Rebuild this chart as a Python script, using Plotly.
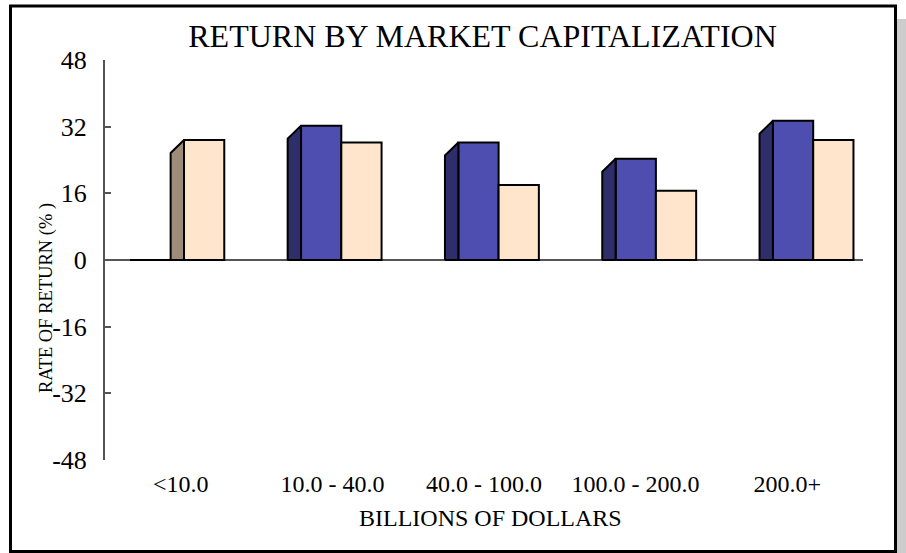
import plotly.graph_objects as go

# ---- data ----
categories = ["<10.0", "10.0 - 40.0", "40.0 - 100.0", "100.0 - 200.0", "200.0+"]
series_a = [0.0, 32.2, 28.2, 24.3, 33.4]      # blue bars
series_b = [28.8, 28.2, 18.0, 16.6, 28.8]     # peach bars
y_ticks = [48, 32, 16, 0, -16, -32, -48]

# ---- style ----
FONT = "Liberation Serif, Times New Roman, serif"
BLUE = "#4E4EB0"
BLUE_SIDE = "#2E2E6B"
PEACH = "#FFE5CC"
PEACH_SIDE = "#9E8C7A"
W = 0.256      # bar width (x2 units)
D = 0.085      # depth width (x2 units)
DY = 3.1       # depth drop (y units)

n = len(categories)
idx = list(range(n))

fig = go.Figure()

# visible side faces of peach bars (only where they rise above the blue bar)
px, py = [], []
for i, (a, b) in enumerate(zip(series_a, series_b)):
    if b > a:
        base = a
        px += [i - D, i - D, i, i, i - D, None]
        py += [base, max(b - DY, base), b, base, base, None]
fig.add_trace(go.Scatter(x=px, y=py, xaxis="x2", mode="lines", fill="toself",
                         fillcolor=PEACH_SIDE, line=dict(color="black", width=2),
                         hoverinfo="skip", showlegend=False))

# side faces of blue bars
bx, by = [], []
for i, a in enumerate(series_a):
    x0 = i - W - D
    x1 = i - W
    bx += [x0, x0, x1, x1, x0, None]
    by += [0, max(a - DY, 0), a, 0, 0, None]
fig.add_trace(go.Scatter(x=bx, y=by, xaxis="x2", mode="lines", fill="toself",
                         fillcolor=BLUE_SIDE, line=dict(color="black", width=2),
                         hoverinfo="skip", showlegend=False))

# front faces
fig.add_trace(go.Bar(x=idx, y=series_a, xaxis="x2", width=W, offset=-W,
                     marker=dict(color=BLUE, line=dict(color="black", width=2)),
                     showlegend=False))
fig.add_trace(go.Bar(x=idx, y=series_b, xaxis="x2", width=W, offset=0,
                     marker=dict(color=PEACH, line=dict(color="black", width=2)),
                     showlegend=False))

# floor outline under each group
fx, fy = [], []
for i in idx:
    fx += [i - W - D, i + W, None]
    fy += [0, 0, None]
fig.add_trace(go.Scatter(x=fx, y=fy, xaxis="x2", mode="lines",
                         line=dict(color="black", width=2),
                         hoverinfo="skip", showlegend=False))

# category axis for labels (invisible scatter to register categories)
fig.add_trace(go.Scatter(x=categories, y=[None] * n, mode="markers",
                         showlegend=False, hoverinfo="skip"))

L, R, T, B = 105, 43, 60, 93
plot_w = 906 - L - R
plot_h = 553 - T - B

def px2paper_x(p):
    return (p - L) / plot_w

def px2paper_y(p):
    return (553 - B - p) / plot_h

fig.update_layout(
    width=906, height=553,
    margin=dict(l=L, r=R, t=T, b=B, pad=0),
    paper_bgcolor="white", plot_bgcolor="white",
    barmode="overlay",
    font=dict(family=FONT, color="black"),
    title=dict(text="RETURN BY MARKET CAPITALIZATION", x=px2paper_x(482.5), xref="paper",
               xanchor="center", y=1 - 36 / 553, yanchor="middle",
               font=dict(family=FONT, size=32, color="black")),
    xaxis=dict(type="category", categoryorder="array", categoryarray=categories,
               range=[-0.5, n - 0.5], showline=False, showgrid=False, zeroline=False,
               ticks="", tickfont=dict(family=FONT, size=24, color="black"),
               ticklabelstandoff=7, fixedrange=True),
    xaxis2=dict(overlaying="x", type="linear",
                range=[(105 - 184) / 157.3, (863 - 184) / 157.3],
                visible=False, fixedrange=True),
    yaxis=dict(range=[-48, 48], tickvals=y_ticks, ticktext=[str(v) for v in y_ticks],
               showline=True, linecolor="#555555", linewidth=2,
               ticks="inside", ticklen=6, tickwidth=2, tickcolor="#555555",
               showgrid=False, zeroline=True, zerolinecolor="#555555", zerolinewidth=2,
               tickfont=dict(family=FONT, size=26, color="black"),
               ticklabelstandoff=11, fixedrange=True),
    annotations=[
        dict(text="RATE OF RETURN (% )", xref="paper", yref="paper",
             x=px2paper_x(46), y=px2paper_y(298), textangle=-90,
             xanchor="center", yanchor="middle", showarrow=False,
             font=dict(family=FONT, size=18.5, color="black")),
        dict(text="BILLIONS OF DOLLARS", xref="paper", yref="paper",
             x=px2paper_x(490), y=px2paper_y(518),
             xanchor="center", yanchor="middle", showarrow=False,
             font=dict(family=FONT, size=24, color="black")),
    ],
    shapes=[
        dict(type="rect", xref="paper", yref="paper",
             x0=px2paper_x(897), x1=px2paper_x(906.5),
             y0=px2paper_y(554), y1=px2paper_y(19),
             fillcolor="#CCCCCC", line=dict(width=0), layer="below"),
        dict(type="rect", xref="paper", yref="paper",
             x0=px2paper_x(10.5), x1=px2paper_x(895.5),
             y0=px2paper_y(551.5), y1=px2paper_y(6),
             line=dict(color="black", width=3), fillcolor="rgba(0,0,0,0)"),
    ],
)

fig.write_html("out.html", config={"displayModeBar": False},
               post_script="document.body.style.margin='0';")
